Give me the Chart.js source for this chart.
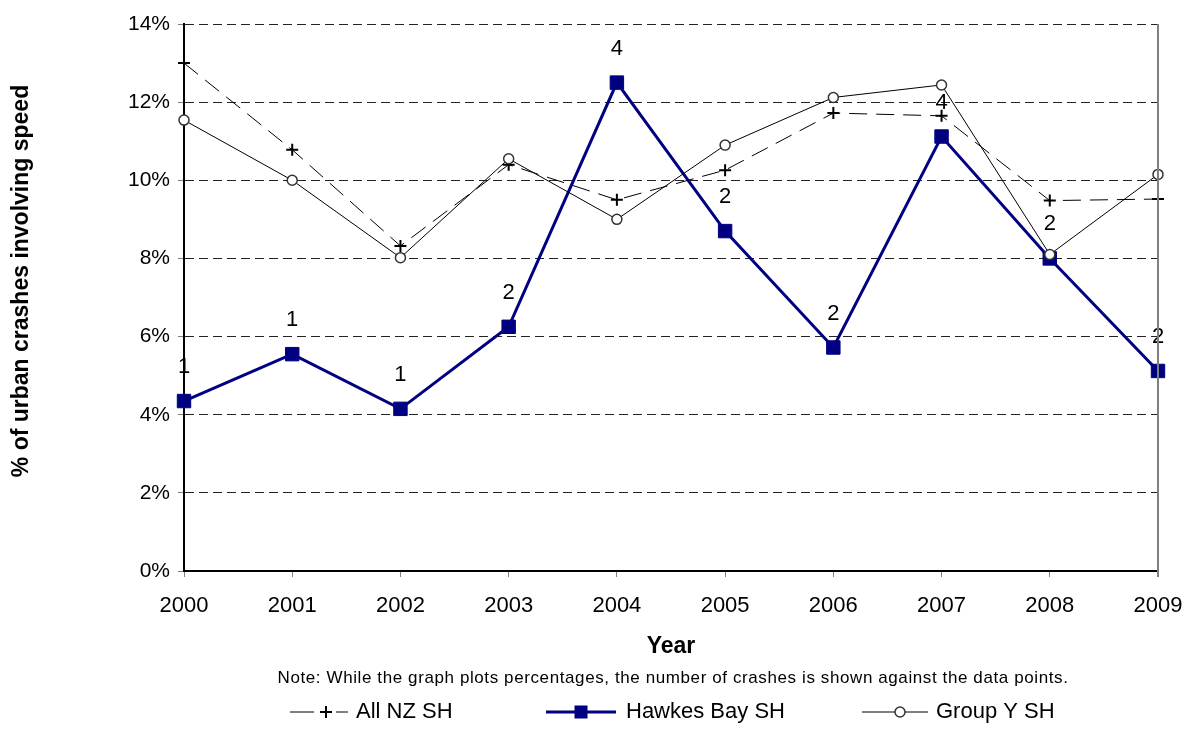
<!DOCTYPE html>
<html>
<head>
<meta charset="utf-8">
<script src="https://cdn.jsdelivr.net/npm/chart.js@4"></script>
<style>
  body { margin: 0; background: #fff; }
</style>
</head>
<body>
<canvas id="myChart" width="1192" height="749"></canvas>
<script>
// Données
const years = ['2000', '2001', '2002', '2003', '2004', '2005', '2006', '2007', '2008', '2009'];
const allNzSh = [13.0, 10.78, 8.32, 10.4, 9.5, 10.26, 11.72, 11.65, 9.48, 9.52];
const hawkesBaySh = [4.35, 5.55, 4.15, 6.25, 12.5, 8.7, 5.72, 11.12, 8.0, 5.12];
const groupYSh = [11.54, 10.0, 8.02, 10.55, 9.0, 10.9, 12.12, 12.44, 8.1, 10.15];
const crashCounts = [1, 1, 1, 2, 4, 2, 2, 4, 2, 2];
const yTickValues = [0, 2, 4, 6, 8, 10, 12, 14];

const FONT = 'Arial, "Liberation Sans", sans-serif';
const NAVY = '#000080';

// Textes, légende et bordure droite dessinés à la main
const extras = {
    id: 'extras',
    afterDatasetsDraw(chart) {
        const ctx = chart.ctx;
        const meta = chart.getDatasetMeta(1);
        ctx.save();
        ctx.fillStyle = '#000';
        ctx.font = '22px ' + FONT;
        ctx.textAlign = 'center';
        ctx.textBaseline = 'middle';
        meta.data.forEach(function (pt, i) {
            ctx.fillText(String(crashCounts[i]), pt.x, pt.y - 34);
        });
        ctx.restore();
    },
    afterDraw(chart) {
        const ctx = chart.ctx;
        const area = chart.chartArea;
        ctx.save();

        // bordure droite grise
        ctx.strokeStyle = '#808080';
        ctx.lineWidth = 2;
        ctx.beginPath();
        ctx.moveTo(area.right, area.top);
        ctx.lineTo(area.right, area.bottom + 6);
        ctx.stroke();

        // titre axe Y
        ctx.fillStyle = '#000';
        ctx.textAlign = 'center';
        ctx.textBaseline = 'middle';
        ctx.font = 'bold 23px ' + FONT;
        ctx.save();
        ctx.translate(22, 281);
        ctx.rotate(-Math.PI / 2);
        ctx.fillText('% of urban crashes involving speed', 0, 0);
        ctx.restore();

        // titre axe X + note
        ctx.font = 'bold 23px ' + FONT;
        ctx.fillText('Year', 671, 647);
        ctx.font = '17px ' + FONT;
        ctx.letterSpacing = '0.6px';
        ctx.fillText('Note: While the graph plots percentages, the number of crashes is shown against the data points.', 673, 678);
        ctx.letterSpacing = '0px';

        // légende
        const ly = 712;
        ctx.font = '22px ' + FONT;
        ctx.textAlign = 'left';

        // All NZ SH
        ctx.strokeStyle = '#000';
        ctx.lineWidth = 1;
        ctx.beginPath();
        ctx.moveTo(290, ly); ctx.lineTo(314, ly);
        ctx.moveTo(336, ly); ctx.lineTo(348, ly);
        ctx.stroke();
        ctx.lineWidth = 2;
        ctx.beginPath();
        ctx.moveTo(320, ly); ctx.lineTo(332, ly);
        ctx.moveTo(326, ly - 6); ctx.lineTo(326, ly + 6);
        ctx.stroke();
        ctx.fillText('All NZ SH', 356, ly);

        // Hawkes Bay SH
        ctx.strokeStyle = NAVY;
        ctx.lineWidth = 3;
        ctx.beginPath();
        ctx.moveTo(546, ly); ctx.lineTo(616, ly);
        ctx.stroke();
        ctx.fillStyle = NAVY;
        ctx.fillRect(581 - 6.5, ly - 6.5, 13, 13);
        ctx.fillStyle = '#000';
        ctx.fillText('Hawkes Bay SH', 626, ly);

        // Group Y SH
        ctx.strokeStyle = '#000';
        ctx.lineWidth = 1;
        ctx.beginPath();
        ctx.moveTo(862, ly); ctx.lineTo(928, ly);
        ctx.stroke();
        ctx.fillStyle = '#fff';
        ctx.strokeStyle = '#333';
        ctx.lineWidth = 1.5;
        ctx.beginPath();
        ctx.arc(900, ly, 5, 0, Math.PI * 2);
        ctx.fill();
        ctx.stroke();
        ctx.fillStyle = '#000';
        ctx.fillText('Group Y SH', 936, ly);

        ctx.restore();
    }
};

const ctx = document.getElementById('myChart').getContext('2d');
const myChart = new Chart(ctx, {
    type: 'line',
    data: {
        labels: years,
        datasets: [
            {
                label: 'All NZ SH',
                data: allNzSh,
                borderColor: '#000',
                borderWidth: 1,
                borderDash: [18, 9],
                pointStyle: 'cross',
                pointRadius: 6,
                pointBorderWidth: 2,
                pointBorderColor: '#000',
                fill: false,
                clip: false,
                order: 2
            },
            {
                label: 'Hawkes Bay SH',
                data: hawkesBaySh,
                borderColor: NAVY,
                borderWidth: 3,
                pointStyle: 'rect',
                pointRadius: 9.5,
                pointBorderWidth: 1,
                pointBorderColor: NAVY,
                pointBackgroundColor: NAVY,
                fill: false,
                clip: false,
                order: 3
            },
            {
                label: 'Group Y SH',
                data: groupYSh,
                borderColor: '#000',
                borderWidth: 1,
                pointStyle: 'circle',
                pointRadius: 5,
                pointBorderWidth: 1.5,
                pointBorderColor: '#333',
                pointBackgroundColor: '#fff',
                fill: false,
                clip: false,
                order: 1
            }
        ]
    },
    plugins: [extras],
    options: {
        responsive: false,
        animation: false,
        layout: { padding: { top: 24, right: 34, left: 0, bottom: 0 } },
        plugins: {
            legend: { display: false },
            tooltip: { enabled: false }
        },
        scales: {
            x: {
                offset: false,
                afterFit: (s) => { s.height = 178; s.paddingLeft = 0; s.paddingRight = 0; },
                grid: {
                    drawOnChartArea: false,
                    tickLength: 6,
                    color: '#808080',
                    lineWidth: 1
                },
                border: { color: '#000', width: 2 },
                ticks: {
                    color: '#000',
                    padding: 16,
                    maxRotation: 0,
                    font: { family: FONT, size: 22 }
                }
            },
            y: {
                min: 0,
                max: 14,
                afterFit: (s) => { s.width = 184; s.paddingTop = 0; s.paddingBottom = 0; },
                afterBuildTicks: (s) => { s.ticks = yTickValues.map(v => ({ value: v })); },
                grid: {
                    color: '#222',
                    lineWidth: 1,
                    tickLength: 6,
                    tickColor: '#808080',
                    tickBorderDash: []
                },
                border: { color: '#000', width: 2, dash: [9, 5] },
                ticks: {
                    color: '#000',
                    padding: 8,
                    font: { family: FONT, size: 21 },
                    callback: (v) => v + '%'
                }
            }
        }
    }
});
</script>
</body>
</html>
